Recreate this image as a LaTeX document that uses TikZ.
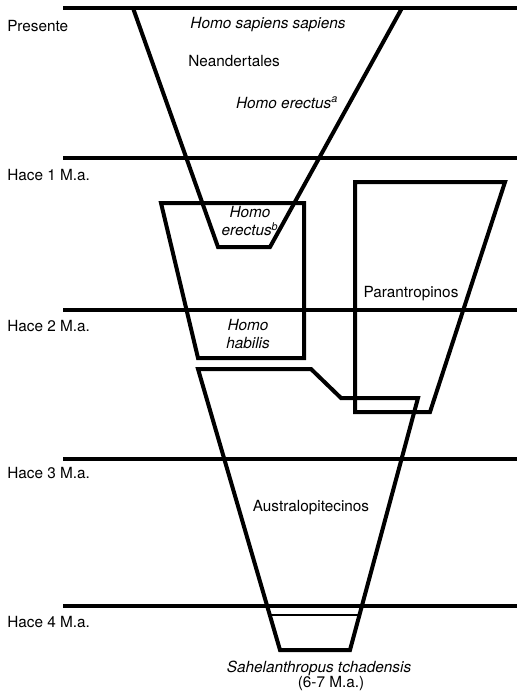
\documentclass[tikz,border=0pt]{standalone}
\usepackage{fontspec}
\setmainfont{TeX Gyre Heros}

\begin{document}
\begin{tikzpicture}[
  x=0.75pt,
  y=-0.75pt,
  timeline/.style={draw=black,line width=3pt},
  lineage/.style={draw=black,line width=3pt},
  era/.style={anchor=west,inner sep=0pt,font=\fontsize{11.5}{13}\selectfont},
  taxon/.style={inner sep=0pt,align=center,font=\fontsize{11.5}{13}\selectfont\itshape},
  grouplabel/.style={inner sep=0pt,align=center,font=\fontsize{11.5}{13}\selectfont}
]
  \useasboundingbox (0,0) rectangle (517,696);

  % Time scale: horizontal lines and their labels.
  \foreach \yl/\yt/\lbl/\nm in {8/26/Presente/t0,158/175/Hace 1 M.a./t1,310/326/Hace 2 M.a./t2,
                                 459/473/Hace 3 M.a./t3,606/622/Hace 4 M.a./t4} {
    \coordinate (\nm w) at (63,\yl);
    \coordinate (\nm e) at (517,\yl);
    \draw[timeline] (\nm w) -- (\nm e);
    \node[era] (\nm) at (7,\yt) {\lbl};
  }

  % Homo funnel (upper).
  \coordinate (HfTL) at (133,8);
  \coordinate (HfTR) at (402,8);
  \coordinate (HfBL) at (218,247);
  \coordinate (HfBR) at (270,247);
  \draw[lineage] (HfTL) -- (HfBL) -- (HfBR) -- (HfTR);

  % Homo box (erectus / habilis).
  \coordinate (HbTL) at (161,203);
  \coordinate (HbTR) at (304,203);
  \coordinate (HbBR) at (304,358);
  \coordinate (HbBL) at (198,358);
  \draw[lineage] (HbTL) -- (HbTR) -- (HbBR) -- (HbBL) -- cycle;

  % Parantropinos box.
  \coordinate (PbTL) at (355,182);
  \coordinate (PbTR) at (505,182);
  \coordinate (PbBR) at (430,412);
  \coordinate (PbBL) at (355,412);
  \draw[lineage] (PbTL) -- (PbTR) -- (PbBR) -- (PbBL) -- cycle;

  % Australopitecinos funnel (lower).
  \coordinate (AfTL) at (198,369);
  \coordinate (AfK1) at (311,369);
  \coordinate (AfK2) at (341,398);
  \coordinate (AfTR) at (418,398);
  \coordinate (AfBR) at (350,650);
  \coordinate (AfBL) at (280,650);
  \draw[lineage] (AfTR) -- (AfK2) -- (AfK1) -- (AfTL) -- (AfBL) -- (AfBR) -- cycle;
  \coordinate (AfSL) at (270,615);
  \coordinate (AfSR) at (359,615);
  \draw[draw=black,line width=2.2pt] (AfSL) -- (AfSR);

  % Taxon labels.
  \node[taxon] (sapiens) at (268,25) {Homo sapiens sapiens};
  \node[grouplabel,anchor=west] (neander) at (188,61) {Neandertales};
  \node[taxon] (erectusA) at (287,103) {Homo erectus\textsuperscript{a}};
  \node[taxon] (erectusB) at (250,221) {Homo\\[1pt]erectus\textsuperscript{b}};
  \node[taxon] (habilis) at (248,334) {Homo\\[1pt]habilis};
  \node[grouplabel] (paran) at (411,294) {Parantropinos};
  \node[grouplabel] (austral) at (311,508) {Australopitecinos};
  \node[taxon] (sahel) at (319,668) {Sahelanthropus tchadensis};
  \node[grouplabel] (sahelage) at (331,684) {(6-7 M.a.)};
\end{tikzpicture}
\end{document}
